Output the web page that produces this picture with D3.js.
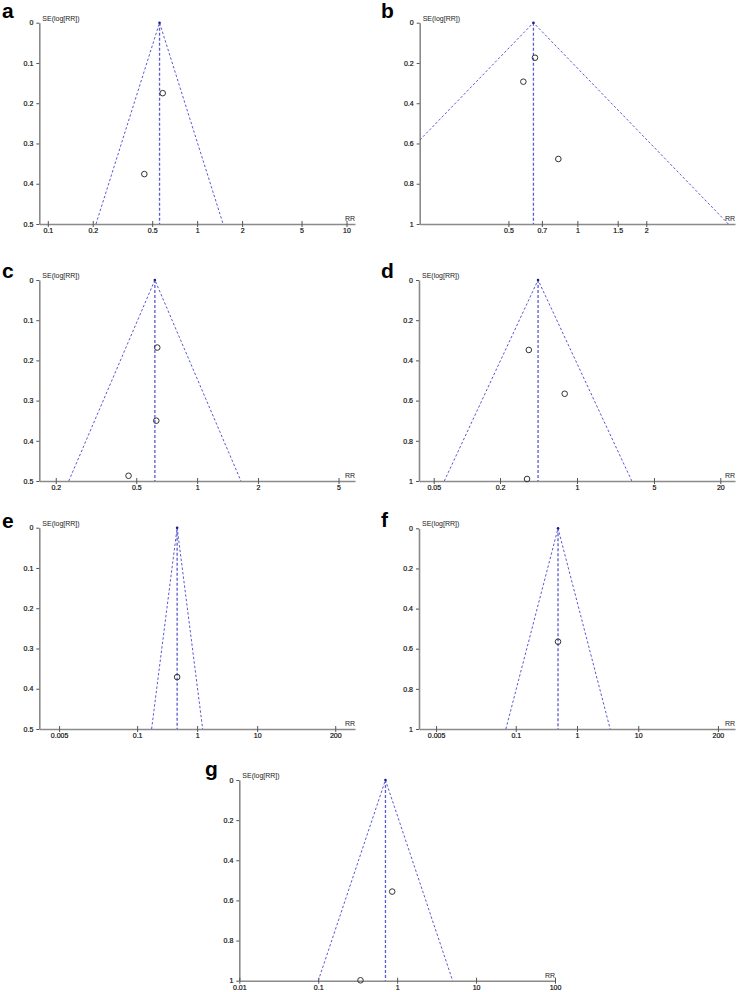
<!DOCTYPE html>
<html>
<head>
<meta charset="utf-8">
<script src="https://cdn.jsdelivr.net/npm/d3@7"></script>
<style>
  body { margin: 0; background: #fff; }
  svg { display: block; font-family: "Liberation Sans", Arial, sans-serif; }
</style>
</head>
<body>
<script>
// funnel plots, one per outcome
const panelLabels = ["a", "b", "c", "d", "e", "f", "g"];
const pooledRR = [0.56, 0.643, 0.618, 0.443, 0.464, 0.49, 0.711];
const seMax = [0.5, 1, 0.5, 1, 0.5, 1, 1];
const rrLimit = [11.4, 4.88, 6.03, 27.2, 427, 380, 100];

const studyRR = [
  [0.588, 0.443],
  [0.653, 0.581, 0.826],
  [0.635, 0.628, 0.458],
  [0.365, 0.773, 0.352],
  [0.464],
  [0.49],
  [0.865, 0.343]
];
const studySE = [
  [0.175, 0.376],
  [0.174, 0.293, 0.677],
  [0.168, 0.35, 0.487],
  [0.348, 0.566, 0.99],
  [0.371],
  [0.565],
  [0.556, 0.998]
];

const xTicks = [
  [0.1, 0.2, 0.5, 1, 2, 5, 10],
  [0.5, 0.7, 1, 1.5, 2],
  [0.2, 0.5, 1, 2, 5],
  [0.05, 0.2, 1, 5, 20],
  [0.005, 0.1, 1, 10, 200],
  [0.005, 0.1, 1, 10, 200],
  [0.01, 0.1, 1, 10, 100]
];
const yTicksHalf = [0, 0.1, 0.2, 0.3, 0.4, 0.5];
const yTicksOne = [0, 0.2, 0.4, 0.6, 0.8, 1];

// where each panel sits on the page
const boxes = [
  { x0: 39.3, x1: 355, y0: 22.7, y1: 224, lx: 2, ly: 18 },
  { x0: 419.7, x1: 735, y0: 22.7, y1: 224, lx: 381, ly: 18 },
  { x0: 39.3, x1: 355, y0: 280, y1: 481, lx: 2, ly: 278 },
  { x0: 419, x1: 735, y0: 280, y1: 481, lx: 381, ly: 278 },
  { x0: 39.3, x1: 355, y0: 527.7, y1: 729, lx: 2, ly: 528 },
  { x0: 419, x1: 735, y0: 528.3, y1: 729, lx: 381, ly: 527 },
  { x0: 239.3, x1: 555, y0: 780, y1: 980.7, lx: 205, ly: 776 }
];

const funnelColor = "#5a5ad2";
const axisColor = "#8a8a8a";

const svg = d3.select("body").append("svg")
  .attr("width", 737)
  .attr("height", 992);

panelLabels.forEach((lab, i) => {
  const b = boxes[i];
  const x = d3.scaleLog().domain([1 / rrLimit[i], rrLimit[i]]).range([b.x0, b.x1]);
  const y = d3.scaleLinear().domain([0, seMax[i]]).range([b.y0, b.y1]);
  const g = svg.append("g");

  // panel letter
  g.append("text")
    .attr("x", b.lx).attr("y", b.ly)
    .attr("font-size", 21).attr("font-weight", "bold")
    .attr("fill", "#000")
    .text(lab);

  // clip for funnel lines
  g.append("clipPath").attr("id", "clip" + lab)
    .append("rect")
    .attr("x", b.x0).attr("y", b.y0 - 3)
    .attr("width", b.x1 - b.x0).attr("height", b.y1 - b.y0 + 3);

  // axes
  const yAxis = g.append("g")
    .attr("transform", `translate(${b.x0},0)`)
    .call(d3.axisLeft(y)
      .tickValues(seMax[i] === 1 ? yTicksOne : yTicksHalf)
      .tickFormat(d => String(d))
      .tickSize(3).tickSizeOuter(0).tickPadding(3));

  const xAxis = g.append("g")
    .attr("transform", `translate(0,${b.y1})`)
    .call(d3.axisBottom(x)
      .tickValues(xTicks[i])
      .tickFormat(d => String(d))
      .tickSize(3).tickSizeOuter(0).tickPadding(1));
  xAxis.selectAll(".tick line").attr("y1", -3);

  [yAxis, xAxis].forEach(ax => {
    ax.attr("font-size", 7).attr("font-family", null);
    ax.select(".domain").attr("stroke", axisColor).attr("stroke-width", 1.6);
    ax.selectAll(".tick line").attr("stroke", "#555").attr("stroke-width", 1);
    ax.selectAll(".tick text").attr("fill", "#111")
      .attr("stroke", "#111").attr("stroke-width", 0.2);
  });

  // axis titles
  g.append("text")
    .attr("x", b.x0 + 3).attr("y", b.y0 - 2)
    .attr("font-size", 7).attr("fill", "#222")
    .text("SE(log[RR])");
  g.append("text")
    .attr("x", b.x1).attr("y", b.y1 - 3)
    .attr("text-anchor", "end")
    .attr("font-size", 7).attr("fill", "#222")
    .text("RR");

  // pseudo 95% limits and pooled estimate
  const p = pooledRR[i];
  const s = seMax[i];
  const funnel = [
    [p * Math.exp(-1.96 * s), s],
    [p, 0],
    [p * Math.exp(1.96 * s), s]
  ];
  const line = d3.line().x(d => x(d[0])).y(d => y(d[1]));
  g.append("path")
    .attr("clip-path", `url(#clip${lab})`)
    .attr("d", line(funnel))
    .attr("fill", "none")
    .attr("stroke", funnelColor)
    .attr("stroke-width", 1)
    .attr("stroke-dasharray", "2.5,2");
  g.append("line")
    .attr("x1", x(p)).attr("x2", x(p))
    .attr("y1", y(0)).attr("y2", y(s))
    .attr("stroke", funnelColor)
    .attr("stroke-width", 1.3)
    .attr("stroke-dasharray", "3,2");
  g.append("circle")
    .attr("cx", x(p)).attr("cy", y(0)).attr("r", 1.3)
    .attr("fill", "#1c1c8a");

  // studies
  g.selectAll("circle.study")
    .data(studyRR[i].map((rr, k) => ({ rr: rr, se: studySE[i][k] })))
    .enter()
    .append("circle")
    .attr("class", "study")
    .attr("cx", d => x(d.rr))
    .attr("cy", d => y(d.se))
    .attr("r", 2.8)
    .attr("fill", "none")
    .attr("stroke", "#333")
    .attr("stroke-width", 1);
});
</script>
</body>
</html>
